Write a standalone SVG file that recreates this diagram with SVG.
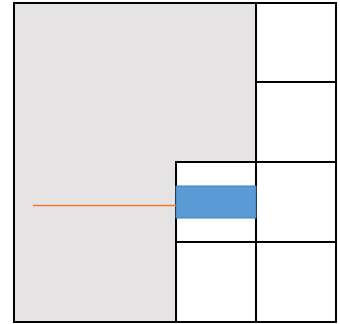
<svg xmlns="http://www.w3.org/2000/svg" width="340" height="324" viewBox="0 0 340 324">
<style>
.cell{fill:#ffffff;stroke:#000000;stroke-width:2}
.gray{fill:#e5e3e4;stroke:none}
.blue{fill:#5b9bd5;stroke:#4a7fb0;stroke-width:1}
.wire{stroke:#ed7d31;stroke-width:1.5;fill:none}
</style>
<rect width="340" height="324" fill="#ffffff"/>
<g id="gray-area">
<path class="gray" d="M14,3 H256 V162 H176 V322 H14 Z"/>
</g>
<g id="cell-r1"><rect class="cell" x="256" y="3" width="80" height="79"/></g>
<g id="cell-r2"><rect class="cell" x="256" y="82" width="80" height="80"/></g>
<g id="cell-r3"><rect class="cell" x="256" y="162" width="80" height="80"/></g>
<g id="cell-r4"><rect class="cell" x="256" y="242" width="80" height="80"/></g>
<g id="cell-m3"><rect class="cell" x="176" y="162" width="80" height="80"/></g>
<g id="cell-m4"><rect class="cell" x="176" y="242" width="80" height="80"/></g>
<g id="blue-block"><rect class="blue" x="176" y="186" width="80" height="32"/></g>
<g id="frame"><rect x="14" y="3" width="322" height="319" fill="none" stroke="#000" stroke-width="2"/></g>
<g id="connectors">
<line class="wire" x1="33" y1="205.5" x2="176" y2="205.5"/>
</g>
</svg>
